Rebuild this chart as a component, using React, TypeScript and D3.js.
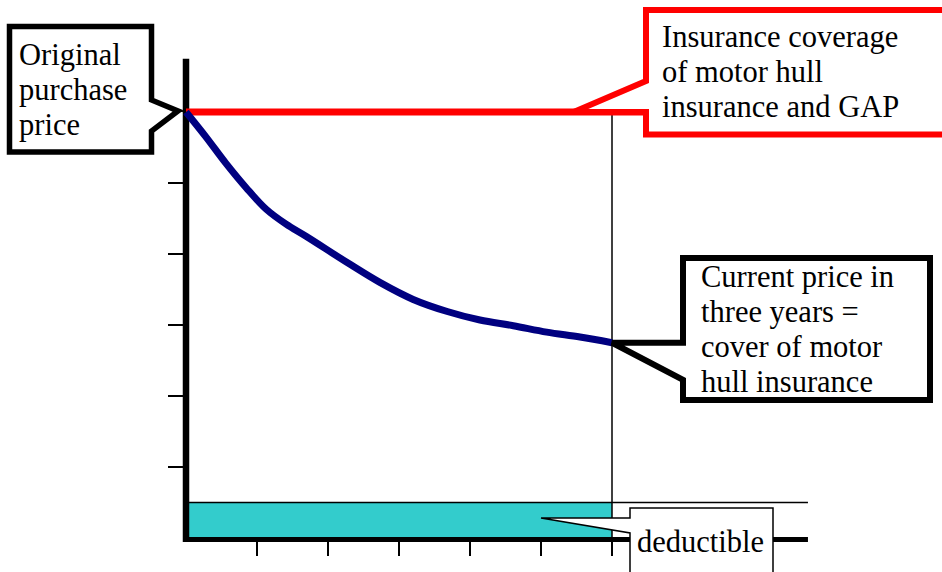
import React from "react";
import * as d3 from "d3";

// ---- data (chart units) ----
const xTicks = [1, 2, 3, 4, 5, 6];
const yTicks = [1, 2, 3, 4, 5];
const curveX = [0, 0.28, 0.56, 0.85, 1.13, 1.41, 1.69, 2.27, 2.73, 3.2, 3.68, 4.14, 4.61, 5.08, 5.55, 6.0];
const curveY = [6.0, 5.65, 5.28, 4.93, 4.63, 4.42, 4.25, 3.88, 3.6, 3.36, 3.19, 3.07, 2.99, 2.9, 2.83, 2.75];
const purchasePrice = 6;
const deductible = 0.5;
const horizon = 6;
const xAxisMax = 8.76;
const yAxisMax = 6.75;
const labelOriginal = ["Original", "purchase", "price"];
const labelCoverage = ["Insurance coverage", "of motor hull", "insurance and GAP"];
const labelCurrent = ["Current price in", "three years =", "cover of motor", "hull insurance"];
const labelDeductible = ["deductible"];

const W = 942;
const H = 572;
const FONT = '"Liberation Serif", "Times New Roman", "DejaVu Serif", serif';
const FS = 30.5;
const LH = 35;

export default function App() {
  const x = d3.scaleLinear().domain([0, 6]).range([186, 612]);
  const y = d3.scaleLinear().domain([0, 6]).range([538, 112]);

  const pts: [number, number][] = curveX.map((v, i) => [v, curveY[i]]);
  const line = d3
    .line<[number, number]>()
    .x((d) => x(d[0]))
    .y((d) => y(d[1]))
    .curve(d3.curveCatmullRom.alpha(0.5));

  const x0 = x(0);
  const y0 = y(0);
  const yP = y(purchasePrice);
  const xH = x(horizon);
  const yEnd = y(curveY[curveY.length - 1]);
  const yDed = y(deductible);
  const xEnd = x(xAxisMax);

  const textLines = (lines: string[], tx: number, by: number) =>
    lines.map((t, i) => (
      <text key={i} x={tx} y={by + i * LH} style={{ fontFamily: FONT, fontSize: FS }} fill="#000">
        {t}
      </text>
    ));

  const tlPoly = [
    [9.5, 26.5],
    [151.5, 26.5],
    [151.5, yP - 12],
    [x0 - 8, yP - 1],
    [151.5, yP + 19],
    [151.5, 152],
    [9.5, 152],
  ];
  const trPoly = [
    [646, 10],
    [970, 10],
    [970, 134.5],
    [646, 134.5],
    [646, yP],
    [x(5.46), yP],
    [646, yP - 31],
  ];
  const rPoly = [
    [683, 258],
    [930, 258],
    [930, 400],
    [683, 400],
    [683, yEnd + 37],
    [xH, yEnd],
    [683, yEnd],
  ];
  const dPoly = [
    [630, 508],
    [773, 508],
    [773, 600],
    [630, 600],
    [630, 533],
    [x(5.0), 518],
    [630, 518],
  ];
  const poly = (p: number[][]) => p.map((q) => q.join(",")).join(" ");

  return (
    <svg
      width={W}
      height={H}
      viewBox={`0 0 ${W} ${H}`}
      style={{ position: "absolute", left: 0, top: 0, display: "block", background: "#fff" }}
    >
      <rect x={x0} y={yDed} width={xH - x0} height={y0 - yDed} fill="#33CCCC" />
      <line x1={x0} x2={xEnd} y1={yDed} y2={yDed} stroke="#000" strokeWidth={1.5} />

      <line x1={xH} x2={xH} y1={yP} y2={y0 + 18} stroke="#000" strokeWidth={1.5} />

      {yTicks.map((t) => (
        <line key={t} x1={168} x2={x0} y1={y(t)} y2={y(t)} stroke="#000" strokeWidth={2} />
      ))}
      {xTicks.map((t) => (
        <line key={t} x1={x(t)} x2={x(t)} y1={y0 + 2} y2={y0 + 18} stroke="#000" strokeWidth={2} />
      ))}

      <line x1={x0} x2={x0} y1={y(yAxisMax)} y2={y0 + 4} stroke="#000" strokeWidth={6.5} />
      <line x1={x0 - 2} x2={xEnd} y1={y0 + 1.5} y2={y0 + 1.5} stroke="#000" strokeWidth={5} />

      <line x1={x0} x2={646} y1={yP} y2={yP} stroke="#FF0000" strokeWidth={7} />

      <path d={line(pts) || ""} fill="none" stroke="#000080" strokeWidth={7} strokeLinejoin="round" />

      <line x1={x0 - 8} x2={x0} y1={yP - 1} y2={yP} stroke="#000" strokeWidth={1} />
      <polygon points={poly(tlPoly)} fill="#fff" stroke="#000" strokeWidth={5.5} strokeLinejoin="miter" />
      {textLines(labelOriginal, 19, 64.5)}

      <polygon points={poly(trPoly)} fill="#fff" stroke="#FF0000" strokeWidth={6} strokeLinejoin="miter" />
      {textLines(labelCoverage, 662, 46.7)}

      <polygon points={poly(rPoly)} fill="#fff" stroke="#000" strokeWidth={6} strokeLinejoin="miter" />
      {textLines(labelCurrent, 701, 286.7)}

      <polygon points={poly(dPoly)} fill="#fff" stroke="#000" strokeWidth={1.5} strokeLinejoin="miter" />
      {textLines(labelDeductible, 637, 551.7)}
    </svg>
  );
}
